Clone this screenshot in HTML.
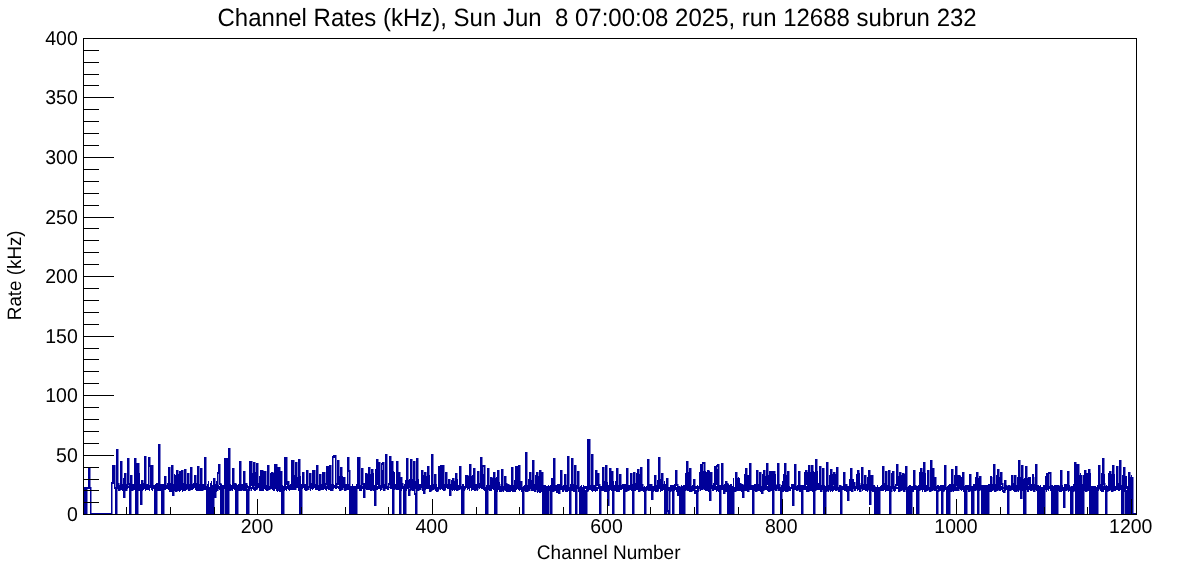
<!DOCTYPE html>
<html><head><meta charset="utf-8"><style>
html,body{margin:0;padding:0;background:#fff;width:1196px;height:572px;overflow:hidden}
svg{display:block;font-family:"Liberation Sans",sans-serif;text-rendering:geometricPrecision;will-change:transform}
</style></head><body>
<svg width="1196" height="572" viewBox="0 0 1196 572" shape-rendering="crispEdges">
<rect x="83.5" y="38.5" width="1053" height="476" fill="none" stroke="#000" stroke-width="1"/>
<path d="M117 485h1V489h-1zM118 485h1V489h-1zM119 486h1V489h-1zM120 484h1V490h-1zM121 480h1V490h-1zM122 487h1V491h-1zM123 478h1V490h-1zM124 479h1V491h-1zM125 485h1V490h-1zM126 484h1V489h-1zM127 485h1V489h-1zM128 486h1V488h-1zM129 484h1V489h-1zM130 484h1V489h-1zM131 484h1V491h-1zM132 484h1V490h-1zM133 484h1V489h-1zM134 484h1V489h-1zM135 485h1V489h-1zM136 475h1V491h-1zM137 487h1V491h-1zM138 474h1V490h-1zM139 473h1V489h-1zM140 484h1V489h-1zM141 485h1V489h-1zM142 486h1V491h-1zM143 485h1V490h-1zM144 484h1V489h-1zM145 485h1V491h-1zM146 484h1V489h-1zM147 484h1V489h-1zM148 484h1V490h-1zM149 485h1V491h-1zM150 484h1V488h-1zM151 484h1V490h-1zM152 484h1V491h-1zM153 485h1V489h-1zM154 485h1V489h-1zM155 484h1V489h-1zM156 484h1V488h-1zM157 485h1V490h-1zM158 484h1V490h-1zM159 485h1V491h-1zM160 485h1V491h-1zM161 484h1V490h-1zM162 484h1V491h-1zM163 484h1V489h-1zM164 485h1V490h-1zM165 486h1V490h-1zM166 485h1V489h-1zM167 485h1V489h-1zM168 474h1V490h-1zM169 475h1V492h-1zM170 486h1V490h-1zM171 474h1V492h-1zM172 475h1V490h-1zM173 486h1V492h-1zM174 474h1V491h-1zM175 475h1V490h-1zM176 487h1V492h-1zM177 474h1V491h-1zM178 474h1V490h-1zM179 486h1V492h-1zM180 476h1V491h-1zM181 475h1V490h-1zM182 485h1V492h-1zM183 484h1V490h-1zM184 486h1V488h-1zM185 484h1V491h-1zM186 486h1V490h-1zM187 485h1V489h-1zM188 485h1V490h-1zM189 486h1V489h-1zM190 486h1V490h-1zM191 485h1V490h-1zM192 484h1V490h-1zM193 484h1V489h-1zM194 484h1V488h-1zM195 484h1V490h-1zM196 486h1V490h-1zM197 485h1V489h-1zM198 486h1V491h-1zM199 485h1V491h-1zM200 484h1V491h-1zM201 484h1V489h-1zM202 485h1V490h-1zM203 485h1V490h-1zM204 485h1V489h-1zM205 485h1V490h-1zM206 486h1V490h-1zM207 484h1V490h-1zM208 481h1V490h-1zM209 487h1V489h-1zM210 483h1V490h-1zM211 481h1V491h-1zM212 485h1V491h-1zM213 481h1V492h-1zM214 482h1V490h-1zM215 486h1V491h-1zM216 481h1V492h-1zM217 484h1V490h-1zM218 485h1V489h-1zM219 486h1V490h-1zM220 484h1V490h-1zM221 484h1V489h-1zM222 485h1V488h-1zM223 486h1V489h-1zM224 484h1V489h-1zM225 484h1V491h-1zM226 485h1V490h-1zM227 485h1V491h-1zM228 484h1V489h-1zM229 484h1V489h-1zM230 484h1V488h-1zM231 485h1V490h-1zM232 484h1V491h-1zM233 484h1V489h-1zM234 486h1V490h-1zM235 484h1V488h-1zM236 484h1V490h-1zM237 485h1V491h-1zM238 485h1V491h-1zM239 485h1V491h-1zM240 485h1V489h-1zM241 484h1V489h-1zM242 485h1V489h-1zM243 486h1V491h-1zM244 486h1V491h-1zM245 484h1V491h-1zM246 484h1V490h-1zM247 485h1V488h-1zM248 486h1V489h-1zM249 473h1V489h-1zM250 472h1V489h-1zM251 487h1V491h-1zM252 473h1V489h-1zM253 471h1V490h-1zM254 487h1V491h-1zM255 472h1V491h-1zM256 471h1V488h-1zM257 485h1V489h-1zM258 486h1V488h-1zM259 476h1V491h-1zM260 485h1V491h-1zM261 476h1V491h-1zM262 477h1V491h-1zM263 487h1V491h-1zM264 476h1V489h-1zM265 476h1V490h-1zM266 485h1V490h-1zM267 474h1V488h-1zM268 474h1V490h-1zM269 486h1V490h-1zM270 473h1V489h-1zM271 473h1V489h-1zM272 486h1V490h-1zM273 473h1V491h-1zM274 474h1V491h-1zM275 485h1V489h-1zM276 473h1V491h-1zM277 473h1V492h-1zM278 486h1V490h-1zM279 474h1V491h-1zM280 474h1V490h-1zM281 486h1V489h-1zM282 485h1V488h-1zM283 486h1V489h-1zM284 485h1V491h-1zM285 484h1V490h-1zM286 486h1V491h-1zM287 485h1V489h-1zM288 485h1V490h-1zM289 486h1V491h-1zM290 485h1V489h-1zM291 476h1V490h-1zM292 475h1V490h-1zM293 485h1V490h-1zM294 475h1V488h-1zM295 475h1V489h-1zM296 485h1V488h-1zM297 477h1V488h-1zM298 476h1V491h-1zM299 485h1V490h-1zM300 476h1V490h-1zM301 484h1V488h-1zM302 484h1V489h-1zM303 486h1V488h-1zM304 484h1V490h-1zM305 484h1V490h-1zM306 485h1V489h-1zM307 486h1V489h-1zM308 486h1V490h-1zM309 485h1V488h-1zM310 484h1V491h-1zM311 485h1V488h-1zM312 485h1V490h-1zM313 485h1V489h-1zM314 484h1V488h-1zM315 484h1V489h-1zM316 486h1V489h-1zM317 486h1V490h-1zM318 485h1V490h-1zM319 484h1V491h-1zM320 484h1V490h-1zM321 484h1V489h-1zM322 484h1V490h-1zM323 486h1V490h-1zM324 485h1V488h-1zM325 484h1V490h-1zM326 486h1V491h-1zM327 484h1V489h-1zM328 485h1V489h-1zM329 485h1V490h-1zM330 485h1V491h-1zM331 484h1V491h-1zM332 485h1V491h-1zM333 484h1V489h-1zM334 485h1V488h-1zM335 484h1V489h-1zM336 484h1V489h-1zM337 486h1V488h-1zM338 486h1V489h-1zM339 476h1V488h-1zM340 474h1V490h-1zM341 486h1V489h-1zM342 476h1V490h-1zM343 486h1V488h-1zM344 484h1V489h-1zM345 486h1V489h-1zM346 485h1V490h-1zM347 485h1V489h-1zM348 484h1V490h-1zM349 484h1V489h-1zM350 486h1V490h-1zM351 486h1V489h-1zM352 484h1V489h-1zM353 486h1V491h-1zM354 486h1V491h-1zM355 486h1V489h-1zM356 484h1V489h-1zM357 484h1V489h-1zM358 485h1V489h-1zM359 486h1V491h-1zM360 485h1V491h-1zM361 484h1V491h-1zM362 486h1V489h-1zM363 485h1V489h-1zM364 485h1V490h-1zM365 485h1V489h-1zM366 484h1V490h-1zM367 474h1V489h-1zM368 487h1V490h-1zM369 473h1V490h-1zM370 474h1V489h-1zM371 485h1V490h-1zM372 473h1V488h-1zM373 473h1V491h-1zM374 485h1V490h-1zM375 469h1V491h-1zM376 470h1V490h-1zM377 486h1V490h-1zM378 471h1V489h-1zM379 469h1V489h-1zM380 487h1V491h-1zM381 471h1V489h-1zM382 470h1V488h-1zM383 485h1V488h-1zM384 486h1V489h-1zM385 484h1V489h-1zM386 485h1V489h-1zM387 486h1V490h-1zM388 486h1V490h-1zM389 487h1V488h-1zM390 471h1V489h-1zM391 471h1V489h-1zM392 487h1V489h-1zM393 471h1V490h-1zM394 472h1V490h-1zM395 486h1V489h-1zM396 472h1V490h-1zM397 471h1V490h-1zM398 485h1V490h-1zM399 484h1V490h-1zM400 484h1V490h-1zM401 485h1V491h-1zM402 485h1V489h-1zM403 486h1V488h-1zM404 484h1V490h-1zM405 480h1V488h-1zM406 479h1V491h-1zM407 485h1V489h-1zM408 480h1V490h-1zM409 479h1V488h-1zM410 487h1V488h-1zM411 480h1V489h-1zM412 479h1V491h-1zM413 486h1V491h-1zM414 479h1V491h-1zM415 481h1V489h-1zM416 487h1V489h-1zM417 480h1V490h-1zM418 479h1V490h-1zM419 484h1V490h-1zM420 484h1V490h-1zM421 485h1V488h-1zM422 484h1V489h-1zM423 475h1V490h-1zM424 476h1V491h-1zM425 485h1V490h-1zM426 476h1V489h-1zM427 476h1V489h-1zM428 486h1V489h-1zM429 475h1V489h-1zM430 485h1V491h-1zM431 484h1V490h-1zM432 484h1V489h-1zM433 485h1V490h-1zM434 485h1V489h-1zM435 484h1V489h-1zM436 484h1V491h-1zM437 487h1V491h-1zM438 471h1V491h-1zM439 471h1V489h-1zM440 487h1V490h-1zM441 472h1V489h-1zM442 471h1V490h-1zM443 486h1V491h-1zM444 484h1V489h-1zM445 484h1V490h-1zM446 486h1V488h-1zM447 485h1V489h-1zM448 484h1V489h-1zM449 484h1V488h-1zM450 484h1V491h-1zM451 480h1V490h-1zM452 486h1V491h-1zM453 479h1V490h-1zM454 481h1V491h-1zM455 485h1V490h-1zM456 480h1V490h-1zM457 479h1V488h-1zM458 485h1V489h-1zM459 484h1V489h-1zM460 484h1V489h-1zM461 486h1V489h-1zM462 484h1V488h-1zM463 484h1V489h-1zM464 486h1V491h-1zM465 475h1V489h-1zM466 475h1V488h-1zM467 485h1V490h-1zM468 476h1V489h-1zM469 477h1V491h-1zM470 485h1V488h-1zM471 476h1V491h-1zM472 475h1V490h-1zM473 486h1V490h-1zM474 485h1V489h-1zM475 486h1V489h-1zM476 485h1V489h-1zM477 486h1V491h-1zM478 485h1V488h-1zM479 485h1V489h-1zM480 475h1V488h-1zM481 473h1V489h-1zM482 485h1V489h-1zM483 474h1V490h-1zM484 486h1V490h-1zM485 487h1V490h-1zM486 485h1V490h-1zM487 486h1V490h-1zM488 486h1V490h-1zM489 486h1V490h-1zM490 486h1V491h-1zM491 487h1V491h-1zM492 478h1V489h-1zM493 478h1V490h-1zM494 486h1V489h-1zM495 478h1V492h-1zM496 477h1V491h-1zM497 487h1V492h-1zM498 481h1V490h-1zM499 482h1V492h-1zM500 486h1V489h-1zM501 482h1V492h-1zM502 483h1V489h-1zM503 486h1V492h-1zM504 481h1V490h-1zM505 482h1V491h-1zM506 485h1V492h-1zM507 487h1V492h-1zM508 486h1V491h-1zM509 485h1V490h-1zM510 485h1V492h-1zM511 487h1V490h-1zM512 486h1V492h-1zM513 485h1V492h-1zM514 480h1V490h-1zM515 485h1V492h-1zM516 480h1V490h-1zM517 479h1V489h-1zM518 486h1V490h-1zM519 481h1V491h-1zM520 481h1V489h-1zM521 486h1V491h-1zM522 487h1V491h-1zM523 486h1V489h-1zM524 485h1V491h-1zM525 486h1V492h-1zM526 487h1V491h-1zM527 487h1V490h-1zM528 479h1V491h-1zM529 479h1V490h-1zM530 487h1V489h-1zM531 480h1V491h-1zM532 479h1V491h-1zM533 485h1V491h-1zM534 487h1V489h-1zM535 475h1V490h-1zM536 485h1V490h-1zM537 475h1V493h-1zM538 476h1V492h-1zM539 486h1V493h-1zM540 477h1V493h-1zM541 475h1V492h-1zM542 487h1V492h-1zM543 485h1V492h-1zM544 485h1V490h-1zM545 485h1V489h-1zM546 486h1V490h-1zM547 486h1V491h-1zM548 485h1V491h-1zM549 486h1V490h-1zM550 485h1V492h-1zM551 485h1V490h-1zM552 487h1V491h-1zM553 486h1V490h-1zM554 486h1V490h-1zM555 485h1V491h-1zM556 485h1V489h-1zM557 487h1V491h-1zM558 486h1V490h-1zM559 485h1V490h-1zM560 486h1V490h-1zM561 485h1V490h-1zM562 486h1V492h-1zM563 487h1V492h-1zM564 486h1V490h-1zM565 487h1V490h-1zM566 486h1V491h-1zM567 485h1V492h-1zM568 486h1V491h-1zM569 487h1V492h-1zM570 486h1V490h-1zM571 486h1V491h-1zM572 485h1V491h-1zM573 486h1V489h-1zM574 486h1V491h-1zM575 485h1V491h-1zM576 486h1V490h-1zM577 487h1V489h-1zM578 486h1V490h-1zM579 487h1V491h-1zM580 486h1V491h-1zM581 485h1V490h-1zM582 487h1V491h-1zM583 485h1V491h-1zM584 486h1V492h-1zM585 486h1V489h-1zM586 486h1V490h-1zM587 486h1V491h-1zM588 487h1V491h-1zM589 486h1V490h-1zM590 485h1V490h-1zM591 487h1V491h-1zM592 485h1V492h-1zM593 486h1V491h-1zM594 485h1V491h-1zM595 487h1V492h-1zM596 487h1V491h-1zM597 487h1V491h-1zM598 485h1V489h-1zM599 486h1V492h-1zM600 487h1V490h-1zM601 486h1V490h-1zM602 485h1V491h-1zM603 485h1V491h-1zM604 481h1V491h-1zM605 485h1V492h-1zM606 481h1V492h-1zM607 482h1V491h-1zM608 485h1V490h-1zM609 483h1V491h-1zM610 482h1V490h-1zM611 486h1V491h-1zM612 482h1V489h-1zM613 481h1V490h-1zM614 486h1V490h-1zM615 481h1V489h-1zM616 483h1V492h-1zM617 486h1V489h-1zM618 486h1V492h-1zM619 486h1V492h-1zM620 486h1V490h-1zM621 485h1V490h-1zM622 486h1V489h-1zM623 485h1V492h-1zM624 486h1V490h-1zM625 485h1V491h-1zM626 485h1V489h-1zM627 486h1V489h-1zM628 485h1V491h-1zM629 485h1V490h-1zM630 478h1V490h-1zM631 478h1V491h-1zM632 485h1V490h-1zM633 474h1V489h-1zM634 473h1V491h-1zM635 485h1V491h-1zM636 473h1V490h-1zM637 473h1V490h-1zM638 486h1V492h-1zM639 474h1V492h-1zM640 473h1V491h-1zM641 486h1V491h-1zM642 487h1V491h-1zM643 487h1V489h-1zM644 486h1V490h-1zM645 487h1V491h-1zM646 486h1V491h-1zM647 486h1V490h-1zM648 485h1V491h-1zM649 487h1V490h-1zM650 486h1V491h-1zM651 486h1V490h-1zM652 486h1V489h-1zM653 487h1V492h-1zM654 480h1V491h-1zM655 480h1V492h-1zM656 485h1V491h-1zM657 480h1V490h-1zM658 481h1V491h-1zM659 485h1V489h-1zM660 479h1V492h-1zM661 480h1V491h-1zM662 486h1V491h-1zM663 486h1V490h-1zM664 481h1V490h-1zM665 485h1V491h-1zM666 481h1V491h-1zM667 483h1V491h-1zM668 487h1V491h-1zM669 487h1V490h-1zM670 485h1V491h-1zM671 487h1V491h-1zM672 485h1V491h-1zM673 485h1V491h-1zM674 485h1V491h-1zM675 486h1V490h-1zM676 487h1V492h-1zM677 486h1V489h-1zM678 486h1V492h-1zM679 487h1V490h-1zM680 487h1V491h-1zM681 485h1V491h-1zM682 486h1V491h-1zM683 485h1V490h-1zM684 485h1V492h-1zM685 473h1V490h-1zM686 487h1V490h-1zM687 471h1V491h-1zM688 472h1V491h-1zM689 486h1V492h-1zM690 473h1V491h-1zM691 486h1V489h-1zM692 485h1V491h-1zM693 485h1V489h-1zM694 485h1V492h-1zM695 486h1V489h-1zM696 486h1V489h-1zM697 485h1V489h-1zM698 486h1V492h-1zM699 472h1V489h-1zM700 472h1V491h-1zM701 486h1V490h-1zM702 471h1V490h-1zM703 471h1V489h-1zM704 485h1V490h-1zM705 471h1V491h-1zM706 472h1V490h-1zM707 486h1V491h-1zM708 472h1V490h-1zM709 471h1V491h-1zM710 485h1V491h-1zM711 472h1V489h-1zM712 485h1V491h-1zM713 486h1V491h-1zM714 471h1V490h-1zM715 470h1V490h-1zM716 486h1V492h-1zM717 469h1V491h-1zM718 471h1V492h-1zM719 485h1V489h-1zM720 485h1V491h-1zM721 485h1V490h-1zM722 485h1V490h-1zM723 486h1V489h-1zM724 484h1V492h-1zM725 484h1V492h-1zM726 484h1V492h-1zM727 485h1V490h-1zM728 484h1V491h-1zM729 485h1V490h-1zM730 484h1V489h-1zM731 484h1V491h-1zM732 486h1V490h-1zM733 478h1V490h-1zM734 487h1V492h-1zM735 478h1V490h-1zM736 478h1V491h-1zM737 487h1V490h-1zM738 477h1V491h-1zM739 478h1V491h-1zM740 486h1V491h-1zM741 486h1V492h-1zM742 487h1V490h-1zM743 485h1V490h-1zM744 474h1V491h-1zM745 473h1V490h-1zM746 485h1V491h-1zM747 475h1V491h-1zM748 475h1V491h-1zM749 486h1V490h-1zM750 475h1V490h-1zM751 485h1V490h-1zM752 485h1V490h-1zM753 485h1V490h-1zM754 485h1V489h-1zM755 485h1V492h-1zM756 474h1V491h-1zM757 475h1V490h-1zM758 486h1V489h-1zM759 475h1V491h-1zM760 474h1V491h-1zM761 486h1V490h-1zM762 474h1V490h-1zM763 474h1V491h-1zM764 487h1V490h-1zM765 476h1V490h-1zM766 474h1V490h-1zM767 486h1V491h-1zM768 475h1V490h-1zM769 474h1V492h-1zM770 485h1V491h-1zM771 475h1V491h-1zM772 476h1V491h-1zM773 485h1V491h-1zM774 476h1V490h-1zM775 474h1V490h-1zM776 485h1V490h-1zM777 485h1V489h-1zM778 485h1V491h-1zM779 486h1V490h-1zM780 487h1V489h-1zM781 485h1V491h-1zM782 485h1V490h-1zM783 474h1V492h-1zM784 473h1V490h-1zM785 486h1V492h-1zM786 475h1V490h-1zM787 473h1V491h-1zM788 487h1V491h-1zM789 486h1V491h-1zM790 487h1V491h-1zM791 485h1V489h-1zM792 485h1V489h-1zM793 485h1V490h-1zM794 486h1V490h-1zM795 485h1V490h-1zM796 486h1V490h-1zM797 487h1V489h-1zM798 487h1V490h-1zM799 486h1V490h-1zM800 486h1V489h-1zM801 486h1V490h-1zM802 485h1V490h-1zM803 485h1V490h-1zM804 472h1V490h-1zM805 473h1V490h-1zM806 486h1V492h-1zM807 472h1V492h-1zM808 472h1V489h-1zM809 487h1V490h-1zM810 472h1V490h-1zM811 472h1V491h-1zM812 487h1V492h-1zM813 471h1V492h-1zM814 472h1V491h-1zM815 487h1V490h-1zM816 471h1V490h-1zM817 471h1V490h-1zM818 485h1V490h-1zM819 472h1V489h-1zM820 472h1V491h-1zM821 485h1V489h-1zM822 472h1V490h-1zM823 472h1V490h-1zM824 485h1V491h-1zM825 486h1V490h-1zM826 485h1V492h-1zM827 485h1V490h-1zM828 485h1V492h-1zM829 475h1V490h-1zM830 486h1V492h-1zM831 474h1V491h-1zM832 474h1V492h-1zM833 486h1V491h-1zM834 473h1V490h-1zM835 474h1V490h-1zM836 486h1V491h-1zM837 474h1V489h-1zM838 487h1V491h-1zM839 485h1V491h-1zM840 485h1V490h-1zM841 486h1V491h-1zM842 486h1V490h-1zM843 485h1V490h-1zM844 485h1V491h-1zM845 486h1V489h-1zM846 485h1V491h-1zM847 486h1V491h-1zM848 486h1V492h-1zM849 479h1V489h-1zM850 481h1V491h-1zM851 487h1V489h-1zM852 479h1V491h-1zM853 479h1V489h-1zM854 485h1V491h-1zM855 486h1V491h-1zM856 474h1V489h-1zM857 485h1V491h-1zM858 474h1V490h-1zM859 473h1V491h-1zM860 485h1V491h-1zM861 473h1V489h-1zM862 473h1V491h-1zM863 485h1V489h-1zM864 475h1V490h-1zM865 476h1V491h-1zM866 486h1V489h-1zM867 477h1V492h-1zM868 477h1V490h-1zM869 485h1V491h-1zM870 475h1V489h-1zM871 475h1V491h-1zM872 485h1V489h-1zM873 485h1V490h-1zM874 485h1V490h-1zM875 487h1V492h-1zM876 487h1V492h-1zM877 485h1V490h-1zM878 487h1V491h-1zM879 487h1V491h-1zM880 486h1V490h-1zM881 485h1V491h-1zM882 474h1V491h-1zM883 473h1V491h-1zM884 486h1V489h-1zM885 475h1V492h-1zM886 473h1V491h-1zM887 485h1V490h-1zM888 474h1V490h-1zM889 474h1V492h-1zM890 486h1V492h-1zM891 473h1V492h-1zM892 475h1V489h-1zM893 486h1V491h-1zM894 486h1V492h-1zM895 487h1V491h-1zM896 487h1V489h-1zM897 487h1V489h-1zM898 476h1V491h-1zM899 487h1V491h-1zM900 474h1V490h-1zM901 475h1V491h-1zM902 486h1V490h-1zM903 475h1V489h-1zM904 474h1V491h-1zM905 486h1V490h-1zM906 485h1V490h-1zM907 487h1V490h-1zM908 486h1V492h-1zM909 485h1V490h-1zM910 485h1V490h-1zM911 486h1V491h-1zM912 486h1V491h-1zM913 487h1V492h-1zM914 487h1V490h-1zM915 486h1V490h-1zM916 486h1V489h-1zM917 486h1V492h-1zM918 485h1V492h-1zM919 472h1V490h-1zM920 487h1V490h-1zM921 472h1V490h-1zM922 472h1V492h-1zM923 486h1V490h-1zM924 472h1V489h-1zM925 473h1V490h-1zM926 487h1V491h-1zM927 474h1V490h-1zM928 472h1V489h-1zM929 487h1V491h-1zM930 473h1V491h-1zM931 472h1V491h-1zM932 486h1V489h-1zM933 474h1V490h-1zM934 485h1V491h-1zM935 486h1V490h-1zM936 486h1V489h-1zM937 485h1V489h-1zM938 485h1V491h-1zM939 486h1V490h-1zM940 485h1V491h-1zM941 486h1V490h-1zM942 485h1V492h-1zM943 485h1V490h-1zM944 487h1V491h-1zM945 485h1V490h-1zM946 487h1V491h-1zM947 486h1V490h-1zM948 485h1V492h-1zM949 487h1V491h-1zM950 486h1V491h-1zM951 475h1V490h-1zM952 475h1V490h-1zM953 486h1V492h-1zM954 475h1V491h-1zM955 476h1V491h-1zM956 487h1V491h-1zM957 475h1V491h-1zM958 476h1V490h-1zM959 485h1V489h-1zM960 476h1V490h-1zM961 477h1V491h-1zM962 486h1V490h-1zM963 475h1V490h-1zM964 486h1V492h-1zM965 485h1V490h-1zM966 486h1V491h-1zM967 485h1V490h-1zM968 485h1V490h-1zM969 485h1V490h-1zM970 485h1V490h-1zM971 486h1V491h-1zM972 486h1V490h-1zM973 486h1V489h-1zM974 485h1V490h-1zM975 477h1V490h-1zM976 478h1V490h-1zM977 485h1V492h-1zM978 478h1V491h-1zM979 478h1V490h-1zM980 485h1V490h-1zM981 485h1V489h-1zM982 486h1V490h-1zM983 486h1V490h-1zM984 485h1V491h-1zM985 485h1V491h-1zM986 485h1V491h-1zM987 486h1V491h-1zM988 485h1V489h-1zM989 485h1V492h-1zM990 476h1V490h-1zM991 476h1V492h-1zM992 486h1V491h-1zM993 476h1V490h-1zM994 475h1V491h-1zM995 486h1V490h-1zM996 475h1V490h-1zM997 475h1V491h-1zM998 485h1V490h-1zM999 477h1V491h-1zM1000 475h1V491h-1zM1001 486h1V490h-1zM1002 486h1V490h-1zM1003 487h1V489h-1zM1004 485h1V490h-1zM1005 487h1V491h-1zM1006 486h1V489h-1zM1007 486h1V489h-1zM1008 486h1V491h-1zM1009 485h1V491h-1zM1010 487h1V489h-1zM1011 478h1V490h-1zM1012 477h1V490h-1zM1013 487h1V491h-1zM1014 477h1V492h-1zM1015 478h1V491h-1zM1016 486h1V490h-1zM1017 477h1V491h-1zM1018 477h1V492h-1zM1019 486h1V490h-1zM1020 477h1V489h-1zM1021 478h1V489h-1zM1022 485h1V491h-1zM1023 479h1V489h-1zM1024 478h1V489h-1zM1025 485h1V491h-1zM1026 477h1V489h-1zM1027 478h1V492h-1zM1028 486h1V492h-1zM1029 478h1V490h-1zM1030 477h1V490h-1zM1031 486h1V491h-1zM1032 474h1V490h-1zM1033 474h1V491h-1zM1034 485h1V490h-1zM1035 473h1V490h-1zM1036 473h1V491h-1zM1037 485h1V490h-1zM1038 485h1V489h-1zM1039 486h1V490h-1zM1040 485h1V490h-1zM1041 487h1V491h-1zM1042 487h1V491h-1zM1043 485h1V490h-1zM1044 485h1V491h-1zM1045 476h1V490h-1zM1046 486h1V492h-1zM1047 477h1V490h-1zM1048 478h1V491h-1zM1049 486h1V489h-1zM1050 477h1V491h-1zM1051 485h1V492h-1zM1052 485h1V491h-1zM1053 486h1V491h-1zM1054 487h1V491h-1zM1055 486h1V489h-1zM1056 485h1V489h-1zM1057 486h1V490h-1zM1058 487h1V491h-1zM1059 486h1V492h-1zM1060 487h1V489h-1zM1061 485h1V492h-1zM1062 485h1V490h-1zM1063 487h1V490h-1zM1064 487h1V490h-1zM1065 485h1V491h-1zM1066 485h1V490h-1zM1067 486h1V490h-1zM1068 486h1V492h-1zM1069 485h1V489h-1zM1070 487h1V491h-1zM1071 486h1V490h-1zM1072 486h1V490h-1zM1073 485h1V491h-1zM1074 475h1V491h-1zM1075 474h1V491h-1zM1076 486h1V489h-1zM1077 473h1V491h-1zM1078 475h1V492h-1zM1079 487h1V490h-1zM1080 473h1V491h-1zM1081 475h1V490h-1zM1082 487h1V492h-1zM1083 475h1V490h-1zM1084 474h1V491h-1zM1085 486h1V492h-1zM1086 473h1V491h-1zM1087 473h1V489h-1zM1088 486h1V489h-1zM1089 473h1V491h-1zM1090 473h1V491h-1zM1091 486h1V490h-1zM1092 486h1V490h-1zM1093 486h1V491h-1zM1094 486h1V491h-1zM1095 486h1V489h-1zM1096 487h1V490h-1zM1097 485h1V489h-1zM1098 473h1V491h-1zM1099 474h1V489h-1zM1100 485h1V490h-1zM1101 473h1V492h-1zM1102 473h1V492h-1zM1103 486h1V492h-1zM1104 474h1V490h-1zM1105 486h1V492h-1zM1106 485h1V490h-1zM1107 486h1V490h-1zM1108 473h1V491h-1zM1109 486h1V490h-1zM1110 475h1V489h-1zM1111 474h1V491h-1zM1112 486h1V491h-1zM1113 474h1V491h-1zM1114 474h1V491h-1zM1115 487h1V491h-1zM1116 475h1V490h-1zM1117 473h1V490h-1zM1118 486h1V491h-1zM1119 473h1V491h-1zM1120 476h1V490h-1zM1121 486h1V491h-1zM1122 475h1V492h-1zM1123 476h1V490h-1zM1124 485h1V491h-1zM1125 476h1V490h-1zM1126 476h1V489h-1zM1127 486h1V490h-1zM1128 475h1V492h-1zM1129 475h1V489h-1zM1130 485h1V492h-1zM1131 475h1V491h-1zM84 487h1V489h-1zM84 487H85.5V515H84zM85 513h1V515h-1zM85 487H86.5V515H85zM86 487h1V489h-1zM86 487H87.5V515H86zM87 487h1V489h-1zM88 468h1V470h-1zM88 468H89.5V489H88zM89 487h1V489h-1zM89 468H90.5V489H89zM90 513h1V515h-1zM90 487H91.5V515H90zM91 513h1V515h-1zM92 513h1V515h-1zM93 513h1V515h-1zM94 513h1V515h-1zM95 513h1V515h-1zM96 513h1V515h-1zM97 513h1V515h-1zM98 513h1V515h-1zM99 513h1V515h-1zM100 513h1V515h-1zM101 513h1V515h-1zM102 513h1V515h-1zM103 513h1V515h-1zM104 513h1V515h-1zM105 513h1V515h-1zM106 513h1V515h-1zM107 513h1V515h-1zM108 513h1V515h-1zM109 513h1V515h-1zM110 513h1V515h-1zM111 482h1V484h-1zM111 482H112.5V515H111zM112 465h1V467h-1zM112 465H113.5V484H112zM113 465h1V467h-1zM113 465H114.5V484H113zM114 487h1V489h-1zM114 465H115.5V489H114zM115 513h1V515h-1zM115 487H116.5V515H115zM116 449h1V451h-1zM116 449H117.5V515H116zM117 483h1V485h-1zM117 449H118.5V485H117zM118 489h1V491h-1zM118 483H119.5V491H118zM119 485h1V487h-1zM119 485H120.5V491H119zM120 461h1V463h-1zM120 461H121.5V487H120zM121 484h1V486h-1zM121 461H122.5V486H121zM122 488h1V490h-1zM122 484H123.5V490H122zM123 496h1V498h-1zM123 488H124.5V498H123zM124 473h1V475h-1zM124 473H125.5V498H124zM125 489h1V491h-1zM125 473H126.5V491H125zM126 486h1V488h-1zM126 486H127.5V491H126zM127 458h1V460h-1zM127 458H128.5V488H127zM128 483h1V485h-1zM128 458H129.5V485H128zM129 513h1V515h-1zM129 483H130.5V515H129zM130 475h1V477h-1zM130 475H131.5V515H130zM131 489h1V491h-1zM131 475H132.5V491H131zM132 485h1V487h-1zM132 485H133.5V491H132zM133 488h1V490h-1zM133 485H134.5V490H133zM134 458h1V460h-1zM134 458H135.5V490H134zM135 513h1V515h-1zM135 458H136.5V515H135zM136 513h1V515h-1zM136 463H137.5V515H136zM137 463h1V465h-1zM137 463H138.5V515H137zM138 489h1V491h-1zM138 463H139.5V491H138zM139 486h1V488h-1zM139 486H140.5V491H139zM140 503h1V505h-1zM140 486H141.5V505H140zM141 480h1V482h-1zM141 480H142.5V505H141zM142 487h1V489h-1zM142 480H143.5V489H142zM143 483h1V485h-1zM143 483H144.5V489H143zM144 456h1V458h-1zM144 456H145.5V485H144zM145 485h1V487h-1zM145 456H146.5V487H145zM146 488h1V490h-1zM146 485H147.5V490H146zM147 484h1V486h-1zM147 484H148.5V490H147zM148 457h1V459h-1zM148 457H149.5V486H148zM149 465h1V467h-1zM149 457H150.5V467H149zM150 484h1V486h-1zM150 465H151.5V486H150zM151 465h1V467h-1zM151 465H152.5V486H151zM152 486h1V488h-1zM152 465H153.5V488H152zM153 486h1V488h-1zM154 513h1V515h-1zM154 486H155.5V515H154zM155 513h1V515h-1zM155 486H156.5V515H155zM156 483h1V485h-1zM156 483H157.5V515H156zM157 489h1V491h-1zM157 483H158.5V491H157zM158 444h1V446h-1zM158 444H159.5V491H158zM159 488h1V490h-1zM159 444H160.5V490H159zM160 484h1V486h-1zM160 484H161.5V490H160zM161 513h1V515h-1zM161 484H162.5V515H161zM162 513h1V515h-1zM162 484H163.5V515H162zM163 484h1V486h-1zM163 484H164.5V515H163zM164 476h1V478h-1zM164 476H165.5V486H164zM165 486h1V488h-1zM165 476H166.5V488H165zM166 486h1V488h-1zM167 483h1V485h-1zM167 483H168.5V488H167zM168 467h1V469h-1zM168 467H169.5V485H168zM169 483h1V485h-1zM169 467H170.5V485H169zM170 490h1V492h-1zM170 483H171.5V492H170zM171 465h1V467h-1zM171 465H172.5V492H171zM172 494h1V496h-1zM172 465H173.5V496H172zM173 484h1V486h-1zM173 484H174.5V496H173zM174 488h1V490h-1zM174 484H175.5V490H174zM175 490h1V492h-1zM175 488H176.5V492H175zM176 470h1V472h-1zM176 470H177.5V492H176zM177 489h1V491h-1zM177 470H178.5V491H177zM178 486h1V488h-1zM178 486H179.5V491H178zM179 471h1V473h-1zM179 471H180.5V488H179zM180 483h1V485h-1zM180 471H181.5V485H180zM181 470h1V472h-1zM181 470H182.5V485H181zM182 483h1V485h-1zM182 470H183.5V485H182zM183 489h1V491h-1zM183 483H184.5V491H183zM184 469h1V471h-1zM184 469H185.5V491H184zM185 488h1V490h-1zM185 469H186.5V490H185zM186 484h1V486h-1zM186 484H187.5V490H186zM187 473h1V475h-1zM187 473H188.5V486H187zM188 489h1V491h-1zM188 473H189.5V491H188zM189 484h1V486h-1zM189 484H190.5V491H189zM190 467h1V469h-1zM190 467H191.5V486H190zM191 486h1V488h-1zM191 467H192.5V488H191zM192 486h1V488h-1zM193 483h1V485h-1zM193 483H194.5V488H193zM194 475h1V477h-1zM194 475H195.5V485H194zM195 483h1V485h-1zM195 475H196.5V485H195zM196 489h1V491h-1zM196 483H197.5V491H196zM197 466h1V468h-1zM197 466H198.5V491H197zM198 488h1V490h-1zM198 466H199.5V490H198zM199 484h1V486h-1zM199 484H200.5V490H199zM200 468h1V470h-1zM200 468H201.5V486H200zM201 489h1V491h-1zM201 468H202.5V491H201zM202 484h1V486h-1zM202 484H203.5V491H202zM203 488h1V490h-1zM203 484H204.5V490H203zM204 457h1V459h-1zM204 457H205.5V490H204zM205 486h1V488h-1zM205 457H206.5V488H205zM206 513h1V515h-1zM206 486H207.5V515H206zM207 489h1V491h-1zM207 489H208.5V515H207zM208 513h1V515h-1zM208 489H209.5V515H208zM209 489h1V491h-1zM209 489H210.5V515H209zM210 513h1V515h-1zM210 489H211.5V515H210zM211 489h1V491h-1zM211 489H212.5V515H211zM212 513h1V515h-1zM212 489H213.5V515H212zM213 478h1V480h-1zM213 478H214.5V515H213zM214 496h1V498h-1zM214 478H215.5V498H214zM215 484h1V486h-1zM215 484H216.5V498H215zM216 489h1V491h-1zM216 484H217.5V491H216zM217 472h1V474h-1zM217 472H218.5V491H217zM218 464h1V466h-1zM218 464H219.5V474H218zM219 483h1V485h-1zM219 464H220.5V485H219zM220 513h1V515h-1zM220 483H221.5V515H220zM221 513h1V515h-1zM221 485H222.5V515H221zM222 513h1V515h-1zM222 485H223.5V515H222zM223 485h1V487h-1zM223 485H224.5V515H223zM224 458h1V460h-1zM224 458H225.5V487H224zM225 513h1V515h-1zM225 458H226.5V515H225zM226 458h1V460h-1zM226 458H227.5V515H226zM227 513h1V515h-1zM227 458H228.5V515H227zM228 448h1V450h-1zM228 448H229.5V515H228zM229 489h1V491h-1zM229 448H230.5V491H229zM230 486h1V488h-1zM230 486H231.5V491H230zM231 486h1V488h-1zM232 468h1V470h-1zM232 468H233.5V488H232zM233 487h1V489h-1zM233 468H234.5V489H233zM234 483h1V485h-1zM234 483H235.5V489H234zM235 513h1V515h-1zM235 483H236.5V515H235zM236 513h1V515h-1zM236 488H237.5V515H236zM237 488h1V490h-1zM237 488H238.5V515H237zM238 484h1V486h-1zM238 484H239.5V490H238zM239 461h1V463h-1zM239 461H240.5V486H239zM240 489h1V491h-1zM240 461H241.5V491H240zM241 484h1V486h-1zM241 484H242.5V491H241zM242 488h1V490h-1zM242 484H243.5V490H242zM243 471h1V473h-1zM243 471H244.5V490H243zM244 486h1V488h-1zM244 471H245.5V488H244zM245 483h1V485h-1zM245 483H246.5V488H245zM246 513h1V515h-1zM246 483H247.5V515H246zM247 513h1V515h-1zM247 489H248.5V515H247zM248 489h1V491h-1zM248 489H249.5V515H248zM249 461h1V463h-1zM249 461H250.5V491H249zM250 461h1V463h-1zM250 461H251.5V486H250zM251 484h1V486h-1zM251 461H252.5V486H251zM252 487h1V489h-1zM252 484H253.5V489H252zM253 462h1V464h-1zM253 462H254.5V489H253zM254 484h1V486h-1zM254 462H255.5V486H254zM255 488h1V490h-1zM255 484H256.5V490H255zM256 463h1V465h-1zM256 463H257.5V490H256zM257 486h1V488h-1zM257 463H258.5V488H257zM258 483h1V485h-1zM258 483H259.5V488H258zM259 488h1V490h-1zM259 483H260.5V490H259zM260 470h1V472h-1zM260 470H261.5V490H260zM261 470h1V472h-1zM261 470H262.5V487H261zM262 485h1V487h-1zM262 470H263.5V487H262zM263 471h1V473h-1zM263 471H264.5V487H263zM264 471h1V473h-1zM264 471H265.5V487H264zM265 488h1V490h-1zM265 471H266.5V490H265zM266 489h1V491h-1zM266 488H267.5V491H266zM267 465h1V467h-1zM267 465H268.5V491H267zM268 488h1V490h-1zM268 465H269.5V490H268zM269 486h1V488h-1zM269 486H270.5V490H269zM270 486h1V488h-1zM271 472h1V474h-1zM271 472H272.5V488H271zM272 487h1V489h-1zM272 472H273.5V489H272zM273 483h1V485h-1zM273 483H274.5V489H273zM274 464h1V466h-1zM274 464H275.5V485H274zM275 464h1V466h-1zM275 464H276.5V485H275zM276 489h1V491h-1zM276 464H277.5V491H276zM277 467h1V469h-1zM277 467H278.5V491H277zM278 467h1V469h-1zM278 467H279.5V491H278zM279 490h1V492h-1zM279 467H280.5V492H279zM280 471h1V473h-1zM280 471H281.5V492H280zM281 513h1V515h-1zM281 471H282.5V515H281zM282 513h1V515h-1zM282 486H283.5V515H282zM283 486h1V488h-1zM283 486H284.5V515H283zM284 457h1V459h-1zM284 457H285.5V488H284zM285 457h1V459h-1zM285 457H286.5V485H285zM286 483h1V485h-1zM286 457H287.5V485H286zM287 481h1V483h-1zM287 481H288.5V485H287zM288 485h1V487h-1zM288 481H289.5V487H288zM289 488h1V490h-1zM289 485H290.5V490H289zM290 484h1V486h-1zM290 484H291.5V490H290zM291 460h1V462h-1zM291 460H292.5V486H291zM292 460h1V462h-1zM292 460H293.5V486H292zM293 484h1V486h-1zM293 460H294.5V486H293zM294 488h1V490h-1zM294 484H295.5V490H294zM295 462h1V464h-1zM295 462H296.5V490H295zM296 486h1V488h-1zM296 462H297.5V488H296zM297 483h1V485h-1zM297 483H298.5V488H297zM298 459h1V461h-1zM298 459H299.5V485H298zM299 513h1V515h-1zM299 459H300.5V515H299zM300 513h1V515h-1zM300 485H301.5V515H300zM301 485h1V487h-1zM301 485H302.5V515H301zM302 472h1V474h-1zM302 472H303.5V487H302zM303 484h1V486h-1zM303 472H304.5V486H303zM304 487h1V489h-1zM304 484H305.5V489H304zM305 489h1V491h-1zM305 487H306.5V491H305zM306 470h1V472h-1zM306 470H307.5V491H306zM307 488h1V490h-1zM307 470H308.5V490H307zM308 486h1V488h-1zM308 486H309.5V490H308zM309 473h1V475h-1zM309 473H310.5V488H309zM310 483h1V485h-1zM310 473H311.5V485H310zM311 487h1V489h-1zM311 483H312.5V489H311zM312 470h1V472h-1zM312 470H313.5V489H312zM313 470h1V472h-1zM313 470H314.5V487H313zM314 485h1V487h-1zM314 470H315.5V487H314zM315 488h1V490h-1zM315 485H316.5V490H315zM316 465h1V467h-1zM316 465H317.5V490H316zM317 487h1V489h-1zM317 465H318.5V489H317zM318 489h1V491h-1zM318 487H319.5V491H318zM319 474h1V476h-1zM319 474H320.5V491H319zM320 488h1V490h-1zM320 474H321.5V490H320zM321 486h1V488h-1zM321 486H322.5V490H321zM322 472h1V474h-1zM322 472H323.5V488H322zM323 472h1V474h-1zM323 472H324.5V488H323zM324 487h1V489h-1zM324 472H325.5V489H324zM325 483h1V485h-1zM325 483H326.5V489H325zM326 466h1V468h-1zM326 466H327.5V485H326zM327 466h1V468h-1zM327 466H328.5V485H327zM328 488h1V490h-1zM328 466H329.5V490H328zM329 465h1V467h-1zM329 465H330.5V490H329zM330 487h1V489h-1zM330 465H331.5V489H330zM331 489h1V491h-1zM331 487H332.5V491H331zM332 456h1V458h-1zM332 456H333.5V491H332zM333 455h1V457h-1zM333 455H334.5V458H333zM334 455h1V457h-1zM334 455H335.5V458H334zM335 486h1V488h-1zM335 455H336.5V488H335zM336 483h1V485h-1zM336 483H337.5V488H336zM337 460h1V462h-1zM337 460H338.5V485H337zM338 483h1V485h-1zM338 460H339.5V485H338zM339 489h1V491h-1zM339 483H340.5V491H339zM340 467h1V469h-1zM340 467H341.5V491H340zM341 488h1V490h-1zM341 467H342.5V490H341zM342 484h1V486h-1zM342 484H343.5V490H342zM343 477h1V479h-1zM343 477H344.5V486H343zM344 489h1V491h-1zM344 477H345.5V491H344zM345 484h1V486h-1zM345 484H346.5V491H345zM346 488h1V490h-1zM346 484H347.5V490H346zM347 457h1V459h-1zM347 457H348.5V490H347zM348 470h1V472h-1zM348 457H349.5V472H348zM349 513h1V515h-1zM349 470H350.5V515H349zM350 513h1V515h-1zM350 487H351.5V515H350zM351 513h1V515h-1zM351 487H352.5V515H351zM352 513h1V515h-1zM352 487H353.5V515H352zM353 513h1V515h-1zM353 487H354.5V515H353zM354 513h1V515h-1zM354 487H355.5V515H354zM355 513h1V515h-1zM355 487H356.5V515H355zM356 487h1V489h-1zM356 487H357.5V515H356zM357 457h1V459h-1zM357 457H358.5V489H357zM358 457h1V459h-1zM358 457H359.5V489H358zM359 488h1V490h-1zM359 457H360.5V490H359zM360 486h1V488h-1zM360 486H361.5V490H360zM361 468h1V470h-1zM361 468H362.5V488H361zM362 483h1V485h-1zM362 468H363.5V485H362zM363 496h1V498h-1zM363 483H364.5V498H363zM364 483h1V485h-1zM364 483H365.5V498H364zM365 473h1V475h-1zM365 473H366.5V485H365zM366 485h1V487h-1zM366 473H367.5V487H366zM367 488h1V490h-1zM367 485H368.5V490H367zM368 467h1V469h-1zM368 467H369.5V490H368zM369 487h1V489h-1zM369 467H370.5V489H369zM370 489h1V491h-1zM370 487H371.5V491H370zM371 469h1V471h-1zM371 469H372.5V491H371zM372 488h1V490h-1zM372 469H373.5V490H372zM373 486h1V488h-1zM373 486H374.5V490H373zM374 504h1V506h-1zM374 486H375.5V506H374zM375 483h1V485h-1zM375 483H376.5V506H375zM376 459h1V461h-1zM376 459H377.5V485H376zM377 483h1V485h-1zM377 459H378.5V485H377zM378 462h1V464h-1zM378 462H379.5V485H378zM379 485h1V487h-1zM379 462H380.5V487H379zM380 488h1V490h-1zM380 485H381.5V490H380zM381 463h1V465h-1zM381 463H382.5V490H381zM382 462h1V464h-1zM382 462H383.5V465H382zM383 489h1V491h-1zM383 462H384.5V491H383zM384 484h1V486h-1zM384 484H385.5V491H384zM385 454h1V456h-1zM385 454H386.5V486H385zM386 486h1V488h-1zM386 454H387.5V488H386zM387 486h1V488h-1zM388 483h1V485h-1zM388 483H389.5V488H388zM389 456h1V458h-1zM389 456H390.5V485H389zM390 483h1V485h-1zM390 456H391.5V485H390zM391 461h1V463h-1zM391 461H392.5V485H391zM392 513h1V515h-1zM392 461H393.5V515H392zM393 488h1V490h-1zM393 488H394.5V515H393zM394 484h1V486h-1zM394 484H395.5V490H394zM395 487h1V489h-1zM395 484H396.5V489H395zM396 461h1V463h-1zM396 461H397.5V489H396zM397 484h1V486h-1zM397 461H398.5V486H397zM398 472h1V474h-1zM398 472H399.5V486H398zM399 513h1V515h-1zM399 472H400.5V515H399zM400 477h1V479h-1zM400 477H401.5V515H400zM401 483h1V485h-1zM401 477H402.5V485H401zM402 487h1V489h-1zM402 483H403.5V489H402zM403 513h1V515h-1zM403 487H404.5V515H403zM404 513h1V515h-1zM404 487H405.5V515H404zM405 485h1V487h-1zM405 485H406.5V515H405zM406 458h1V460h-1zM406 458H407.5V487H406zM407 484h1V486h-1zM407 458H408.5V486H407zM408 494h1V496h-1zM408 484H409.5V496H408zM409 489h1V491h-1zM409 489H410.5V496H409zM410 459h1V461h-1zM410 459H411.5V491H410zM411 488h1V490h-1zM411 459H412.5V490H411zM412 486h1V488h-1zM412 486H413.5V490H412zM413 461h1V463h-1zM413 461H414.5V488H413zM414 493h1V495h-1zM414 461H415.5V495H414zM415 513h1V515h-1zM415 493H416.5V515H415zM416 458h1V460h-1zM416 458H417.5V515H416zM417 489h1V491h-1zM417 458H418.5V491H417zM418 485h1V487h-1zM418 485H419.5V491H418zM419 488h1V490h-1zM419 485H420.5V490H419zM420 484h1V486h-1zM420 484H421.5V490H420zM421 470h1V472h-1zM421 470H422.5V486H421zM422 489h1V491h-1zM422 470H423.5V491H422zM423 492h1V494h-1zM423 489H424.5V494H423zM424 472h1V474h-1zM424 472H425.5V494H424zM425 486h1V488h-1zM425 472H426.5V488H425zM426 486h1V488h-1zM427 466h1V468h-1zM427 466H428.5V488H427zM428 487h1V489h-1zM428 466H429.5V489H428zM429 490h1V492h-1zM429 487H430.5V492H429zM430 489h1V491h-1zM430 489H431.5V492H430zM431 454h1V456h-1zM431 454H432.5V491H431zM432 488h1V490h-1zM432 454H433.5V490H432zM433 484h1V486h-1zM433 484H434.5V490H433zM434 474h1V476h-1zM434 474H435.5V486H434zM435 489h1V491h-1zM435 474H436.5V491H435zM436 490h1V492h-1zM436 489H437.5V492H436zM437 488h1V490h-1zM437 488H438.5V492H437zM438 466h1V468h-1zM438 466H439.5V490H438zM439 486h1V488h-1zM439 466H440.5V488H439zM440 465h1V467h-1zM440 465H441.5V488H440zM441 487h1V489h-1zM441 465H442.5V489H441zM442 465h1V467h-1zM442 465H443.5V489H442zM443 489h1V491h-1zM443 465H444.5V491H443zM444 485h1V487h-1zM444 485H445.5V491H444zM445 472h1V474h-1zM445 472H446.5V487H445zM446 484h1V486h-1zM446 472H447.5V486H446zM447 487h1V489h-1zM447 484H448.5V489H447zM448 479h1V481h-1zM448 479H449.5V489H448zM449 494h1V496h-1zM449 479H450.5V496H449zM450 488h1V490h-1zM450 488H451.5V496H450zM451 486h1V488h-1zM451 486H452.5V490H451zM452 478h1V480h-1zM452 478H453.5V488H452zM453 483h1V485h-1zM453 478H454.5V485H453zM454 487h1V489h-1zM454 483H455.5V489H454zM455 473h1V475h-1zM455 473H456.5V489H455zM456 489h1V491h-1zM456 473H457.5V491H456zM457 485h1V487h-1zM457 485H458.5V491H457zM458 488h1V490h-1zM458 485H459.5V490H458zM459 466h1V468h-1zM459 466H460.5V490H459zM460 487h1V489h-1zM460 466H461.5V489H460zM461 513h1V515h-1zM461 487H462.5V515H461zM462 513h1V515h-1zM462 488H463.5V515H462zM463 488h1V490h-1zM463 488H464.5V515H463zM464 486h1V488h-1zM464 486H465.5V490H464zM465 486h1V488h-1zM466 475h1V477h-1zM466 475H467.5V488H466zM467 487h1V489h-1zM467 475H468.5V489H467zM468 483h1V485h-1zM468 483H469.5V489H468zM469 464h1V466h-1zM469 464H470.5V485H469zM470 485h1V487h-1zM470 464H471.5V487H470zM471 488h1V490h-1zM471 485H472.5V490H471zM472 484h1V486h-1zM472 484H473.5V490H472zM473 468h1V470h-1zM473 468H474.5V486H473zM474 489h1V491h-1zM474 468H475.5V491H474zM475 484h1V486h-1zM475 484H476.5V491H475zM476 488h1V490h-1zM476 484H477.5V490H476zM477 471h1V473h-1zM477 471H478.5V490H477zM478 486h1V488h-1zM478 471H479.5V488H478zM479 483h1V485h-1zM479 483H480.5V488H479zM480 457h1V459h-1zM480 457H481.5V485H480zM481 483h1V485h-1zM481 457H482.5V485H481zM482 465h1V467h-1zM482 465H483.5V485H482zM483 465h1V467h-1zM484 489h1V491h-1zM484 465H485.5V491H484zM485 513h1V515h-1zM485 489H486.5V515H485zM486 513h1V515h-1zM486 489H487.5V515H486zM487 468h1V470h-1zM487 468H488.5V515H487zM488 485h1V487h-1zM488 468H489.5V487H488zM489 489h1V491h-1zM489 485H490.5V491H489zM490 477h1V479h-1zM490 477H491.5V491H490zM491 487h1V489h-1zM491 477H492.5V489H491zM492 483h1V485h-1zM492 483H493.5V489H492zM493 472h1V474h-1zM493 472H494.5V485H493zM494 513h1V515h-1zM494 472H495.5V515H494zM495 513h1V515h-1zM495 485H496.5V515H495zM496 485h1V487h-1zM496 485H497.5V515H496zM497 470h1V472h-1zM497 470H498.5V487H497zM498 484h1V486h-1zM498 470H499.5V486H498zM499 488h1V490h-1zM499 484H500.5V490H499zM500 490h1V492h-1zM500 488H501.5V492H500zM501 469h1V471h-1zM501 469H502.5V492H501zM502 489h1V491h-1zM502 469H503.5V491H502zM503 486h1V488h-1zM503 486H504.5V491H503zM504 476h1V478h-1zM504 476H505.5V488H504zM505 483h1V485h-1zM505 476H506.5V485H505zM506 488h1V490h-1zM506 483H507.5V490H506zM507 484h1V486h-1zM507 484H508.5V490H507zM508 490h1V492h-1zM508 484H509.5V492H508zM509 486h1V488h-1zM509 486H510.5V492H509zM510 489h1V491h-1zM510 486H511.5V491H510zM511 467h1V469h-1zM511 467H512.5V491H511zM512 488h1V490h-1zM512 467H513.5V490H512zM513 490h1V492h-1zM513 488H514.5V492H513zM514 484h1V486h-1zM514 484H515.5V492H514zM515 466h1V468h-1zM515 466H516.5V486H515zM516 466h1V468h-1zM516 466H517.5V486H516zM517 487h1V489h-1zM517 466H518.5V489H517zM518 465h1V467h-1zM518 465H519.5V489H518zM519 488h1V490h-1zM519 465H520.5V490H519zM520 481h1V483h-1zM520 481H521.5V490H520zM521 490h1V492h-1zM521 481H522.5V492H521zM522 513h1V515h-1zM522 490H523.5V515H522zM523 489h1V491h-1zM523 489H524.5V515H523zM524 485h1V487h-1zM524 485H525.5V491H524zM525 452h1V454h-1zM525 452H526.5V487H525zM526 490h1V492h-1zM526 452H527.5V492H526zM527 485h1V487h-1zM527 485H528.5V492H527zM528 489h1V491h-1zM528 485H529.5V491H528zM529 472h1V474h-1zM529 472H530.5V491H529zM530 487h1V489h-1zM530 472H531.5V489H530zM531 483h1V485h-1zM531 483H532.5V489H531zM532 460h1V462h-1zM532 460H533.5V485H532zM533 484h1V486h-1zM533 460H534.5V486H533zM534 490h1V492h-1zM534 484H535.5V492H534zM535 486h1V488h-1zM535 486H536.5V492H535zM536 472h1V474h-1zM536 472H537.5V488H536zM537 484h1V486h-1zM537 472H538.5V486H537zM538 488h1V490h-1zM538 484H539.5V490H538zM539 470h1V472h-1zM539 470H540.5V490H539zM540 485h1V487h-1zM540 470H541.5V487H540zM541 472h1V474h-1zM541 472H542.5V487H541zM542 513h1V515h-1zM542 472H543.5V515H542zM543 513h1V515h-1zM543 486H544.5V515H543zM544 513h1V515h-1zM544 486H545.5V515H544zM545 513h1V515h-1zM545 486H546.5V515H545zM546 513h1V515h-1zM546 486H547.5V515H546zM547 513h1V515h-1zM547 486H548.5V515H547zM548 486h1V488h-1zM548 486H549.5V515H548zM549 489h1V491h-1zM549 486H550.5V491H549zM550 513h1V515h-1zM550 489H551.5V515H550zM551 478h1V480h-1zM551 478H552.5V515H551zM552 490h1V492h-1zM552 478H553.5V492H552zM553 458h1V460h-1zM553 458H554.5V492H553zM554 489h1V491h-1zM554 458H555.5V491H554zM555 487h1V489h-1zM555 487H556.5V491H555zM556 491h1V493h-1zM556 487H557.5V493H556zM557 484h1V486h-1zM557 484H558.5V493H557zM558 492h1V494h-1zM558 484H559.5V494H558zM559 484h1V486h-1zM559 484H560.5V494H559zM560 470h1V472h-1zM560 470H561.5V486H560zM561 486h1V488h-1zM561 470H562.5V488H561zM562 489h1V491h-1zM562 486H563.5V491H562zM563 485h1V487h-1zM563 485H564.5V491H563zM564 474h1V476h-1zM564 474H565.5V487H564zM565 490h1V492h-1zM565 474H566.5V492H565zM566 485h1V487h-1zM566 485H567.5V492H566zM567 456h1V458h-1zM567 456H568.5V487H567zM568 487h1V489h-1zM568 456H569.5V489H568zM569 513h1V515h-1zM569 487H570.5V515H569zM570 484h1V486h-1zM570 484H571.5V515H570zM571 458h1V460h-1zM571 458H572.5V486H571zM572 484h1V486h-1zM572 458H573.5V486H572zM573 490h1V492h-1zM573 484H574.5V492H573zM574 465h1V467h-1zM574 465H575.5V492H574zM575 513h1V515h-1zM575 465H576.5V515H575zM576 485h1V487h-1zM576 485H577.5V515H576zM577 471h1V473h-1zM577 471H578.5V487H577zM578 490h1V492h-1zM578 471H579.5V492H578zM579 513h1V515h-1zM579 490H580.5V515H579zM580 513h1V515h-1zM580 490H581.5V515H580zM581 513h1V515h-1zM581 490H582.5V515H581zM582 513h1V515h-1zM582 490H583.5V515H582zM583 513h1V515h-1zM583 490H584.5V515H583zM584 513h1V515h-1zM584 490H585.5V515H584zM585 513h1V515h-1zM585 490H586.5V515H585zM586 490h1V492h-1zM586 490H587.5V515H586zM587 439h1V441h-1zM587 439H588.5V492H587zM588 439h1V441h-1zM588 439H589.5V487H588zM589 485h1V487h-1zM589 439H590.5V487H589zM590 488h1V490h-1zM590 485H591.5V490H590zM591 454h1V456h-1zM591 454H592.5V490H591zM592 485h1V487h-1zM592 454H593.5V487H592zM593 489h1V491h-1zM593 485H594.5V491H593zM594 487h1V489h-1zM594 487H595.5V491H594zM595 470h1V472h-1zM595 470H596.5V489H595zM596 484h1V486h-1zM596 470H597.5V486H596zM597 473h1V475h-1zM597 473H598.5V486H597zM598 484h1V486h-1zM598 473H599.5V486H598zM599 513h1V515h-1zM599 484H600.5V515H599zM600 486h1V488h-1zM600 486H601.5V515H600zM601 489h1V491h-1zM601 486H602.5V491H601zM602 467h1V469h-1zM602 467H603.5V491H602zM603 488h1V490h-1zM603 467H604.5V490H603zM604 490h1V492h-1zM604 488H605.5V492H604zM605 465h1V467h-1zM605 465H606.5V492H605zM606 489h1V491h-1zM606 465H607.5V491H606zM607 504h1V506h-1zM607 489H608.5V506H607zM608 487h1V489h-1zM608 487H609.5V506H608zM609 468h1V470h-1zM609 468H610.5V489H609zM610 488h1V490h-1zM610 468H611.5V490H610zM611 471h1V473h-1zM611 471H612.5V490H611zM612 513h1V515h-1zM612 471H613.5V515H612zM613 485h1V487h-1zM613 485H614.5V515H613zM614 489h1V491h-1zM614 485H615.5V491H614zM615 484h1V486h-1zM615 484H616.5V491H615zM616 468h1V470h-1zM616 468H617.5V486H616zM617 490h1V492h-1zM617 468H618.5V492H617zM618 485h1V487h-1zM618 485H619.5V492H618zM619 474h1V476h-1zM619 474H620.5V487H619zM620 487h1V489h-1zM620 474H621.5V489H620zM621 487h1V489h-1zM622 484h1V486h-1zM622 484H623.5V489H622zM623 513h1V515h-1zM623 484H624.5V515H623zM624 484h1V486h-1zM624 484H625.5V515H624zM625 490h1V492h-1zM625 484H626.5V492H625zM626 468h1V470h-1zM626 468H627.5V492H626zM627 489h1V491h-1zM627 468H628.5V491H627zM628 485h1V487h-1zM628 485H629.5V491H628zM629 488h1V490h-1zM629 485H630.5V490H629zM630 473h1V475h-1zM630 473H631.5V490H630zM631 484h1V486h-1zM631 473H632.5V486H631zM632 513h1V515h-1zM632 484H633.5V515H632zM633 472h1V474h-1zM633 472H634.5V515H633zM634 487h1V489h-1zM634 472H635.5V489H634zM635 483h1V485h-1zM635 483H636.5V489H635zM636 488h1V490h-1zM636 483H637.5V490H636zM637 469h1V471h-1zM637 469H638.5V490H637zM638 490h1V492h-1zM638 469H639.5V492H638zM639 485h1V487h-1zM639 485H640.5V492H639zM640 467h1V469h-1zM640 467H641.5V487H640zM641 484h1V486h-1zM641 467H642.5V486H641zM642 488h1V490h-1zM642 484H643.5V490H642zM643 490h1V492h-1zM643 488H644.5V492H643zM644 513h1V515h-1zM644 490H645.5V515H644zM645 489h1V491h-1zM645 489H646.5V515H645zM646 487h1V489h-1zM646 487H647.5V491H646zM647 459h1V461h-1zM647 459H648.5V489H647zM648 484h1V486h-1zM648 459H649.5V486H648zM649 489h1V491h-1zM649 484H650.5V491H649zM650 484h1V486h-1zM650 484H651.5V491H650zM651 498h1V500h-1zM651 484H652.5V500H651zM652 486h1V488h-1zM652 486H653.5V500H652zM653 489h1V491h-1zM653 486H654.5V491H653zM654 475h1V477h-1zM654 475H655.5V491H654zM655 488h1V490h-1zM655 475H656.5V490H655zM656 490h1V492h-1zM656 488H657.5V492H656zM657 484h1V486h-1zM657 484H658.5V492H657zM658 457h1V459h-1zM658 457H659.5V486H658zM659 486h1V488h-1zM659 457H660.5V488H659zM660 487h1V489h-1zM660 486H661.5V489H660zM661 473h1V475h-1zM661 473H662.5V489H661zM662 488h1V490h-1zM662 473H663.5V490H662zM663 484h1V486h-1zM663 484H664.5V490H663zM664 513h1V515h-1zM664 484H665.5V515H664zM665 513h1V515h-1zM665 484H666.5V515H665zM666 478h1V480h-1zM666 478H667.5V515H666zM667 510h1V512h-1zM667 478H668.5V512H667zM668 513h1V515h-1zM668 510H669.5V515H668zM669 490h1V492h-1zM669 490H670.5V515H669zM670 485h1V487h-1zM670 485H671.5V492H670zM671 489h1V491h-1zM671 485H672.5V491H671zM672 513h1V515h-1zM672 489H673.5V515H672zM673 487h1V489h-1zM673 487H674.5V515H673zM674 484h1V486h-1zM674 484H675.5V489H674zM675 470h1V472h-1zM675 470H676.5V486H675zM676 484h1V486h-1zM676 470H677.5V486H676zM677 494h1V496h-1zM677 484H678.5V496H677zM678 486h1V488h-1zM678 486H679.5V496H678zM679 513h1V515h-1zM679 486H680.5V515H679zM680 513h1V515h-1zM680 489H681.5V515H680zM681 513h1V515h-1zM681 489H682.5V515H681zM682 513h1V515h-1zM682 489H683.5V515H682zM683 513h1V515h-1zM683 489H684.5V515H683zM684 489h1V491h-1zM684 489H685.5V515H684zM685 486h1V488h-1zM685 486H686.5V491H685zM686 461h1V463h-1zM686 461H687.5V488H686zM687 483h1V485h-1zM687 461H688.5V485H687zM688 488h1V490h-1zM688 483H689.5V490H688zM689 468h1V470h-1zM689 468H690.5V490H689zM690 490h1V492h-1zM690 468H691.5V492H690zM691 486h1V488h-1zM691 486H692.5V492H691zM692 489h1V491h-1zM692 486H693.5V491H692zM693 479h1V481h-1zM693 479H694.5V491H693zM694 492h1V494h-1zM694 479H695.5V494H694zM695 490h1V492h-1zM695 490H696.5V494H695zM696 513h1V515h-1zM696 490H697.5V515H696zM697 489h1V491h-1zM697 489H698.5V515H697zM698 487h1V489h-1zM698 487H699.5V491H698zM699 487h1V489h-1zM700 464h1V466h-1zM700 464H701.5V489H700zM701 488h1V490h-1zM701 464H702.5V490H701zM702 462h1V464h-1zM702 462H703.5V490H702zM703 462h1V464h-1zM704 485h1V487h-1zM704 462H705.5V487H704zM705 489h1V491h-1zM705 485H706.5V491H705zM706 484h1V486h-1zM706 484H707.5V491H706zM707 470h1V472h-1zM707 470H708.5V486H707zM708 490h1V492h-1zM708 470H709.5V492H708zM709 499h1V501h-1zM709 490H710.5V501H709zM710 472h1V474h-1zM710 472H711.5V501H710zM711 486h1V488h-1zM711 472H712.5V488H711zM712 487h1V489h-1zM712 486H713.5V489H712zM713 483h1V485h-1zM713 483H714.5V489H713zM714 466h1V468h-1zM714 466H715.5V485H714zM715 483h1V485h-1zM715 466H716.5V485H715zM716 465h1V467h-1zM716 465H717.5V485H716zM717 464h1V466h-1zM717 464H718.5V467H717zM718 489h1V491h-1zM718 464H719.5V491H718zM719 513h1V515h-1zM719 489H720.5V515H719zM720 488h1V490h-1zM720 488H721.5V515H720zM721 463h1V465h-1zM721 463H722.5V490H721zM722 485h1V487h-1zM722 463H723.5V487H722zM723 492h1V494h-1zM723 485H724.5V494H723zM724 486h1V488h-1zM724 486H725.5V494H724zM725 481h1V483h-1zM725 481H726.5V488H725zM726 483h1V485h-1zM726 481H727.5V485H726zM727 513h1V515h-1zM727 483H728.5V515H727zM728 513h1V515h-1zM728 488H729.5V515H728zM729 513h1V515h-1zM729 488H730.5V515H729zM730 513h1V515h-1zM730 488H731.5V515H730zM731 513h1V515h-1zM731 488H732.5V515H731zM732 513h1V515h-1zM732 488H733.5V515H732zM733 488h1V490h-1zM733 488H734.5V515H733zM734 490h1V492h-1zM734 488H735.5V492H734zM735 472h1V474h-1zM735 472H736.5V492H735zM736 489h1V491h-1zM736 472H737.5V491H736zM737 478h1V480h-1zM737 478H738.5V491H737zM738 487h1V489h-1zM738 478H739.5V489H738zM739 483h1V485h-1zM739 483H740.5V489H739zM740 489h1V491h-1zM740 483H741.5V491H740zM741 484h1V486h-1zM741 484H742.5V491H741zM742 496h1V498h-1zM742 484H743.5V498H742zM743 486h1V488h-1zM743 486H744.5V498H743zM744 489h1V491h-1zM744 486H745.5V491H744zM745 468h1V470h-1zM745 468H746.5V491H745zM746 488h1V490h-1zM746 468H747.5V490H746zM747 490h1V492h-1zM747 488H748.5V492H747zM748 484h1V486h-1zM748 484H749.5V492H748zM749 463h1V465h-1zM749 463H750.5V486H749zM750 486h1V488h-1zM750 463H751.5V488H750zM751 487h1V489h-1zM751 486H752.5V489H751zM752 513h1V515h-1zM752 487H753.5V515H752zM753 489h1V491h-1zM753 489H754.5V515H753zM754 484h1V486h-1zM754 484H755.5V491H754zM755 490h1V492h-1zM755 484H756.5V492H755zM756 470h1V472h-1zM756 470H757.5V492H756zM757 489h1V491h-1zM757 470H758.5V491H757zM758 484h1V486h-1zM758 484H759.5V491H758zM759 472h1V474h-1zM759 472H760.5V486H759zM760 490h1V492h-1zM760 472H761.5V492H760zM761 492h1V494h-1zM761 490H762.5V494H761zM762 489h1V491h-1zM762 489H763.5V494H762zM763 470h1V472h-1zM763 470H764.5V491H763zM764 487h1V489h-1zM764 470H765.5V489H764zM765 483h1V485h-1zM765 483H766.5V489H765zM766 463h1V465h-1zM766 463H767.5V485H766zM767 483h1V485h-1zM767 463H768.5V485H767zM768 490h1V492h-1zM768 483H769.5V492H768zM769 471h1V473h-1zM769 471H770.5V492H769zM770 489h1V491h-1zM770 471H771.5V491H770zM771 471h1V473h-1zM771 471H772.5V491H771zM772 513h1V515h-1zM772 471H773.5V515H772zM773 471h1V473h-1zM773 471H774.5V515H773zM774 484h1V486h-1zM774 471H775.5V486H774zM775 489h1V491h-1zM775 484H776.5V491H775zM776 487h1V489h-1zM776 487H777.5V491H776zM777 463h1V465h-1zM777 463H778.5V489H777zM778 484h1V486h-1zM778 463H779.5V486H778zM779 489h1V491h-1zM779 484H780.5V491H779zM780 513h1V515h-1zM780 489H781.5V515H780zM781 490h1V492h-1zM781 490H782.5V515H781zM782 481h1V483h-1zM782 481H783.5V492H782zM783 489h1V491h-1zM783 481H784.5V491H783zM784 463h1V465h-1zM784 463H785.5V491H784zM785 488h1V490h-1zM785 463H786.5V490H785zM786 490h1V492h-1zM786 488H787.5V492H786zM787 471h1V473h-1zM787 471H788.5V492H787zM788 489h1V491h-1zM788 471H789.5V491H788zM789 487h1V489h-1zM789 487H790.5V491H789zM790 487h1V489h-1zM791 484h1V486h-1zM791 484H792.5V489H791zM792 504h1V506h-1zM792 484H793.5V506H792zM793 484h1V486h-1zM793 484H794.5V506H793zM794 464h1V466h-1zM794 464H795.5V486H794zM795 486h1V488h-1zM795 464H796.5V488H795zM796 489h1V491h-1zM796 486H797.5V491H796zM797 485h1V487h-1zM797 485H798.5V491H797zM798 471h1V473h-1zM798 471H799.5V487H798zM799 490h1V492h-1zM799 471H800.5V492H799zM800 485h1V487h-1zM800 485H801.5V492H800zM801 513h1V515h-1zM801 485H802.5V515H801zM802 487h1V489h-1zM802 487H803.5V515H802zM803 487h1V489h-1zM804 483h1V485h-1zM804 483H805.5V489H804zM805 470h1V472h-1zM805 470H806.5V485H805zM806 483h1V485h-1zM806 470H807.5V485H806zM807 490h1V492h-1zM807 483H808.5V492H807zM808 465h1V467h-1zM808 465H809.5V492H808zM809 489h1V491h-1zM809 465H810.5V491H809zM810 484h1V486h-1zM810 484H811.5V491H810zM811 465h1V467h-1zM811 465H812.5V486H811zM812 490h1V492h-1zM812 465H813.5V492H812zM813 513h1V515h-1zM813 490H814.5V515H813zM814 489h1V491h-1zM814 489H815.5V515H814zM815 459h1V461h-1zM815 459H816.5V491H815zM816 487h1V489h-1zM816 459H817.5V489H816zM817 483h1V485h-1zM817 483H818.5V489H817zM818 488h1V490h-1zM818 483H819.5V490H818zM819 466h1V468h-1zM819 466H820.5V490H819zM820 490h1V492h-1zM820 466H821.5V492H820zM821 485h1V487h-1zM821 485H822.5V492H821zM822 468h1V470h-1zM822 468H823.5V487H822zM823 513h1V515h-1zM823 468H824.5V515H823zM824 513h1V515h-1zM824 490H825.5V515H824zM825 490h1V492h-1zM825 490H826.5V515H825zM826 462h1V464h-1zM826 462H827.5V492H826zM827 489h1V491h-1zM827 462H828.5V491H827zM828 487h1V489h-1zM828 487H829.5V491H828zM829 487h1V489h-1zM830 469h1V471h-1zM830 469H831.5V489H830zM831 488h1V490h-1zM831 469H832.5V490H831zM832 483h1V485h-1zM832 483H833.5V490H832zM833 472h1V474h-1zM833 472H834.5V485H833zM834 485h1V487h-1zM834 472H835.5V487H834zM835 489h1V491h-1zM835 485H836.5V491H835zM836 467h1V469h-1zM836 467H837.5V491H836zM837 488h1V490h-1zM837 467H838.5V490H837zM838 490h1V492h-1zM838 488H839.5V492H838zM839 485h1V487h-1zM839 485H840.5V492H839zM840 513h1V515h-1zM840 485H841.5V515H840zM841 487h1V489h-1zM841 487H842.5V515H841zM842 487h1V489h-1zM843 472h1V474h-1zM843 472H844.5V489H843zM844 489h1V491h-1zM844 472H845.5V491H844zM845 484h1V486h-1zM845 484H846.5V491H845zM846 490h1V492h-1zM846 484H847.5V492H846zM847 499h1V501h-1zM847 490H848.5V501H847zM848 489h1V491h-1zM848 489H849.5V501H848zM849 484h1V486h-1zM849 484H850.5V491H849zM850 468h1V470h-1zM850 468H851.5V486H850zM851 490h1V492h-1zM851 468H852.5V492H851zM852 484h1V486h-1zM852 484H853.5V492H852zM853 482h1V484h-1zM853 482H854.5V486H853zM854 486h1V488h-1zM854 482H855.5V488H854zM855 487h1V489h-1zM855 486H856.5V489H855zM856 483h1V485h-1zM856 483H857.5V489H856zM857 470h1V472h-1zM857 470H858.5V485H857zM858 483h1V485h-1zM858 470H859.5V485H858zM859 490h1V492h-1zM859 483H860.5V492H859zM860 485h1V487h-1zM860 485H861.5V492H860zM861 467h1V469h-1zM861 467H862.5V487H861zM862 484h1V486h-1zM862 467H863.5V486H862zM863 488h1V490h-1zM863 484H864.5V490H863zM864 475h1V477h-1zM864 475H865.5V490H864zM865 484h1V486h-1zM865 475H866.5V486H865zM866 489h1V491h-1zM866 484H867.5V491H866zM867 486h1V488h-1zM867 486H868.5V491H867zM868 470h1V472h-1zM868 470H869.5V488H868zM869 503h1V505h-1zM869 470H870.5V505H869zM870 488h1V490h-1zM870 488H871.5V505H870zM871 475h1V477h-1zM871 475H872.5V490H871zM872 490h1V492h-1zM872 475H873.5V492H872zM873 486h1V488h-1zM873 486H874.5V492H873zM874 513h1V515h-1zM874 486H875.5V515H874zM875 513h1V515h-1zM875 489H876.5V515H875zM876 513h1V515h-1zM876 489H877.5V515H876zM877 513h1V515h-1zM877 489H878.5V515H877zM878 513h1V515h-1zM878 489H879.5V515H878zM879 489h1V491h-1zM879 489H880.5V515H879zM880 487h1V489h-1zM880 487H881.5V491H880zM881 487h1V489h-1zM882 466h1V468h-1zM882 466H883.5V489H882zM883 488h1V490h-1zM883 466H884.5V490H883zM884 483h1V485h-1zM884 483H885.5V490H884zM885 471h1V473h-1zM885 471H886.5V485H885zM886 485h1V487h-1zM886 471H887.5V487H886zM887 489h1V491h-1zM887 485H888.5V491H887zM888 470h1V472h-1zM888 470H889.5V491H888zM889 513h1V515h-1zM889 470H890.5V515H889zM890 490h1V492h-1zM890 490H891.5V515H890zM891 484h1V486h-1zM891 484H892.5V492H891zM892 471h1V473h-1zM892 471H893.5V486H892zM893 486h1V488h-1zM893 471H894.5V488H893zM894 487h1V489h-1zM894 486H895.5V489H894zM895 484h1V486h-1zM895 484H896.5V489H895zM896 464h1V466h-1zM896 464H897.5V486H896zM897 484h1V486h-1zM897 464H898.5V486H897zM898 490h1V492h-1zM898 484H899.5V492H898zM899 472h1V474h-1zM899 472H900.5V492H899zM900 489h1V491h-1zM900 472H901.5V491H900zM901 484h1V486h-1zM901 484H902.5V491H901zM902 473h1V475h-1zM902 473H903.5V486H902zM903 490h1V492h-1zM903 473H904.5V492H903zM904 484h1V486h-1zM904 484H905.5V492H904zM905 466h1V468h-1zM905 466H906.5V486H905zM906 513h1V515h-1zM906 466H907.5V515H906zM907 513h1V515h-1zM907 490H908.5V515H907zM908 513h1V515h-1zM908 490H909.5V515H908zM909 513h1V515h-1zM909 490H910.5V515H909zM910 513h1V515h-1zM910 490H911.5V515H910zM911 490h1V492h-1zM911 490H912.5V515H911zM912 486h1V488h-1zM912 486H913.5V492H912zM913 470h1V472h-1zM913 470H914.5V488H913zM914 485h1V487h-1zM914 470H915.5V487H914zM915 488h1V490h-1zM915 485H916.5V490H915zM916 513h1V515h-1zM916 488H917.5V515H916zM917 513h1V515h-1zM917 489H918.5V515H917zM918 489h1V491h-1zM918 489H919.5V515H918zM919 486h1V488h-1zM919 486H920.5V491H919zM920 468h1V470h-1zM920 468H921.5V488H920zM921 483h1V485h-1zM921 468H922.5V485H921zM922 488h1V490h-1zM922 483H923.5V490H922zM923 462h1V464h-1zM923 462H924.5V490H923zM924 490h1V492h-1zM924 462H925.5V492H924zM925 485h1V487h-1zM925 485H926.5V492H925zM926 489h1V491h-1zM926 485H927.5V491H926zM927 470h1V472h-1zM927 470H928.5V491H927zM928 488h1V490h-1zM928 470H929.5V490H928zM929 490h1V492h-1zM929 488H930.5V492H929zM930 460h1V462h-1zM930 460H931.5V492H930zM931 489h1V491h-1zM931 460H932.5V491H931zM932 468h1V470h-1zM932 468H933.5V491H932zM933 487h1V489h-1zM933 468H934.5V489H933zM934 477h1V479h-1zM934 477H935.5V489H934zM935 489h1V491h-1zM935 477H936.5V491H935zM936 513h1V515h-1zM936 489H937.5V515H936zM937 490h1V492h-1zM937 490H938.5V515H937zM938 486h1V488h-1zM938 486H939.5V492H938zM939 489h1V491h-1zM939 486H940.5V491H939zM940 485h1V487h-1zM940 485H941.5V491H940zM941 513h1V515h-1zM941 485H942.5V515H941zM942 490h1V492h-1zM942 490H943.5V515H942zM943 485h1V487h-1zM943 485H944.5V492H943zM944 465h1V467h-1zM944 465H945.5V487H944zM945 487h1V489h-1zM945 465H946.5V489H945zM946 513h1V515h-1zM946 487H947.5V515H946zM947 513h1V515h-1zM947 487H948.5V515H947zM948 513h1V515h-1zM948 487H949.5V515H948zM949 484h1V486h-1zM949 484H950.5V515H949zM950 490h1V492h-1zM950 484H951.5V492H950zM951 469h1V471h-1zM951 469H952.5V492H951zM952 489h1V491h-1zM952 469H953.5V491H952zM953 484h1V486h-1zM953 484H954.5V491H953zM954 488h1V490h-1zM954 484H955.5V490H954zM955 466h1V468h-1zM955 466H956.5V490H955zM956 484h1V486h-1zM956 466H957.5V486H956zM957 489h1V491h-1zM957 484H958.5V491H957zM958 475h1V477h-1zM958 475H959.5V491H958zM959 487h1V489h-1zM959 475H960.5V489H959zM960 483h1V485h-1zM960 483H961.5V489H960zM961 488h1V490h-1zM961 483H962.5V490H961zM962 472h1V474h-1zM962 472H963.5V490H962zM963 490h1V492h-1zM963 472H964.5V492H963zM964 513h1V515h-1zM964 490H965.5V515H964zM965 513h1V515h-1zM965 490H966.5V515H965zM966 485h1V487h-1zM966 485H967.5V515H966zM967 488h1V490h-1zM967 485H968.5V490H967zM968 490h1V492h-1zM968 488H969.5V492H968zM969 474h1V476h-1zM969 474H970.5V492H969zM970 489h1V491h-1zM970 474H971.5V491H970zM971 513h1V515h-1zM971 489H972.5V515H971zM972 513h1V515h-1zM972 489H973.5V515H972zM973 484h1V486h-1zM973 484H974.5V515H973zM974 489h1V491h-1zM974 484H975.5V491H974zM975 483h1V485h-1zM975 483H976.5V491H975zM976 472h1V474h-1zM976 472H977.5V485H976zM977 513h1V515h-1zM977 472H978.5V515H977zM978 489h1V491h-1zM978 489H979.5V515H978zM979 476h1V478h-1zM979 476H980.5V491H979zM980 488h1V490h-1zM980 476H981.5V490H980zM981 513h1V515h-1zM981 488H982.5V515H981zM982 485h1V487h-1zM982 485H983.5V515H982zM983 513h1V515h-1zM983 485H984.5V515H983zM984 513h1V515h-1zM984 485H985.5V515H984zM985 513h1V515h-1zM985 485H986.5V515H985zM986 513h1V515h-1zM986 485H987.5V515H986zM987 513h1V515h-1zM987 485H988.5V515H987zM988 484h1V486h-1zM988 484H989.5V515H988zM989 490h1V492h-1zM989 484H990.5V492H989zM990 477h1V479h-1zM990 477H991.5V492H990zM991 489h1V491h-1zM991 477H992.5V491H991zM992 484h1V486h-1zM992 484H993.5V491H992zM993 464h1V466h-1zM993 464H994.5V486H993zM994 490h1V492h-1zM994 464H995.5V492H994zM995 484h1V486h-1zM995 484H996.5V492H995zM996 489h1V491h-1zM996 484H997.5V491H996zM997 469h1V471h-1zM997 469H998.5V491H997zM998 487h1V489h-1zM998 469H999.5V489H998zM999 483h1V485h-1zM999 483H1000.5V489H999zM1000 472h1V474h-1zM1000 472H1001.5V485H1000zM1001 483h1V485h-1zM1001 472H1002.5V485H1001zM1002 490h1V492h-1zM1002 483H1003.5V492H1002zM1003 491h1V493h-1zM1003 490H1004.5V493H1003zM1004 480h1V482h-1zM1004 480H1005.5V493H1004zM1005 485h1V487h-1zM1005 480H1006.5V487H1005zM1006 488h1V490h-1zM1006 485H1007.5V490H1006zM1007 513h1V515h-1zM1007 488H1008.5V515H1007zM1008 485h1V487h-1zM1008 485H1009.5V515H1008zM1009 489h1V491h-1zM1009 485H1010.5V491H1009zM1010 486h1V488h-1zM1010 486H1011.5V491H1010zM1011 475h1V477h-1zM1011 475H1012.5V488H1011zM1012 483h1V485h-1zM1012 475H1013.5V485H1012zM1013 488h1V490h-1zM1013 483H1014.5V490H1013zM1014 475h1V477h-1zM1014 475H1015.5V490H1014zM1015 490h1V492h-1zM1015 475H1016.5V492H1015zM1016 485h1V487h-1zM1016 485H1017.5V492H1016zM1017 489h1V491h-1zM1017 485H1018.5V491H1017zM1018 460h1V462h-1zM1018 460H1019.5V491H1018zM1019 488h1V490h-1zM1019 460H1020.5V490H1019zM1020 497h1V499h-1zM1020 488H1021.5V499H1020zM1021 465h1V467h-1zM1021 465H1022.5V499H1021zM1022 489h1V491h-1zM1022 465H1023.5V491H1022zM1023 513h1V515h-1zM1023 489H1024.5V515H1023zM1024 513h1V515h-1zM1024 489H1025.5V515H1024zM1025 466h1V468h-1zM1025 466H1026.5V515H1025zM1026 488h1V490h-1zM1026 466H1027.5V490H1026zM1027 483h1V485h-1zM1027 483H1028.5V490H1027zM1028 477h1V479h-1zM1028 477H1029.5V485H1028zM1029 485h1V487h-1zM1029 477H1030.5V487H1029zM1030 489h1V491h-1zM1030 485H1031.5V491H1030zM1031 484h1V486h-1zM1031 484H1032.5V491H1031zM1032 477h1V479h-1zM1032 477H1033.5V486H1032zM1033 490h1V492h-1zM1033 477H1034.5V492H1033zM1034 484h1V486h-1zM1034 484H1035.5V492H1034zM1035 464h1V466h-1zM1035 464H1036.5V486H1035zM1036 486h1V488h-1zM1036 464H1037.5V488H1036zM1037 513h1V515h-1zM1037 486H1038.5V515H1037zM1038 513h1V515h-1zM1038 487H1039.5V515H1038zM1039 513h1V515h-1zM1039 487H1040.5V515H1039zM1040 487h1V489h-1zM1040 487H1041.5V515H1040zM1041 513h1V515h-1zM1041 487H1042.5V515H1041zM1042 513h1V515h-1zM1042 487H1043.5V515H1042zM1043 513h1V515h-1zM1043 487H1044.5V515H1043zM1044 485h1V487h-1zM1044 485H1045.5V515H1044zM1045 488h1V490h-1zM1045 485H1046.5V490H1045zM1046 473h1V475h-1zM1046 473H1047.5V490H1046zM1047 484h1V486h-1zM1047 473H1048.5V486H1047zM1048 472h1V474h-1zM1048 472H1049.5V486H1048zM1049 472h1V474h-1zM1050 487h1V489h-1zM1050 472H1051.5V489H1050zM1051 513h1V515h-1zM1051 487H1052.5V515H1051zM1052 513h1V515h-1zM1052 487H1053.5V515H1052zM1053 513h1V515h-1zM1053 487H1054.5V515H1053zM1054 485h1V487h-1zM1054 485H1055.5V515H1054zM1055 513h1V515h-1zM1055 485H1056.5V515H1055zM1056 513h1V515h-1zM1056 485H1057.5V515H1056zM1057 485h1V487h-1zM1057 485H1058.5V515H1057zM1058 488h1V490h-1zM1058 485H1059.5V490H1058zM1059 490h1V492h-1zM1059 488H1060.5V492H1059zM1060 470h1V472h-1zM1060 470H1061.5V492H1060zM1061 489h1V491h-1zM1061 470H1062.5V491H1061zM1062 487h1V489h-1zM1062 487H1063.5V491H1062zM1063 506h1V508h-1zM1063 487H1064.5V508H1063zM1064 484h1V486h-1zM1064 484H1065.5V508H1064zM1065 489h1V491h-1zM1065 484H1066.5V491H1065zM1066 484h1V486h-1zM1066 484H1067.5V491H1066zM1067 471h1V473h-1zM1067 471H1068.5V486H1067zM1068 486h1V488h-1zM1068 471H1069.5V488H1068zM1069 489h1V491h-1zM1069 486H1070.5V491H1069zM1070 513h1V515h-1zM1070 489H1071.5V515H1070zM1071 513h1V515h-1zM1071 490H1072.5V515H1071zM1072 490h1V492h-1zM1072 490H1073.5V515H1072zM1073 484h1V486h-1zM1073 484H1074.5V492H1073zM1074 462h1V464h-1zM1074 462H1075.5V486H1074zM1075 513h1V515h-1zM1075 462H1076.5V515H1075zM1076 513h1V515h-1zM1076 464H1077.5V515H1076zM1077 464h1V466h-1zM1077 464H1078.5V515H1077zM1078 513h1V515h-1zM1078 464H1079.5V515H1078zM1079 513h1V515h-1zM1079 475H1080.5V515H1079zM1080 475h1V477h-1zM1080 475H1081.5V515H1080zM1081 513h1V515h-1zM1081 475H1082.5V515H1081zM1082 513h1V515h-1zM1082 484H1083.5V515H1082zM1083 484h1V486h-1zM1083 484H1084.5V515H1083zM1084 470h1V472h-1zM1084 470H1085.5V486H1084zM1085 490h1V492h-1zM1085 470H1086.5V492H1085zM1086 484h1V486h-1zM1086 484H1087.5V492H1086zM1087 489h1V491h-1zM1087 484H1088.5V491H1087zM1088 469h1V471h-1zM1088 469H1089.5V491H1088zM1089 513h1V515h-1zM1089 469H1090.5V515H1089zM1090 513h1V515h-1zM1090 488H1091.5V515H1090zM1091 513h1V515h-1zM1091 488H1092.5V515H1091zM1092 513h1V515h-1zM1092 488H1093.5V515H1092zM1093 513h1V515h-1zM1093 488H1094.5V515H1093zM1094 513h1V515h-1zM1094 488H1095.5V515H1094zM1095 513h1V515h-1zM1095 488H1096.5V515H1095zM1096 513h1V515h-1zM1096 488H1097.5V515H1096zM1097 488h1V490h-1zM1097 488H1098.5V515H1097zM1098 465h1V467h-1zM1098 465H1099.5V490H1098zM1099 484h1V486h-1zM1099 465H1100.5V486H1099zM1100 489h1V491h-1zM1100 484H1101.5V491H1100zM1101 486h1V488h-1zM1101 486H1102.5V491H1101zM1102 458h1V460h-1zM1102 458H1103.5V488H1102zM1103 483h1V485h-1zM1103 458H1104.5V485H1103zM1104 488h1V490h-1zM1104 483H1105.5V490H1104zM1105 513h1V515h-1zM1105 488H1106.5V515H1105zM1106 490h1V492h-1zM1106 490H1107.5V515H1106zM1107 486h1V488h-1zM1107 486H1108.5V492H1107zM1108 489h1V491h-1zM1108 486H1109.5V491H1108zM1109 471h1V473h-1zM1109 471H1110.5V491H1109zM1110 488h1V490h-1zM1110 471H1111.5V490H1110zM1111 490h1V492h-1zM1111 488H1112.5V492H1111zM1112 465h1V467h-1zM1112 465H1113.5V492H1112zM1113 489h1V491h-1zM1113 465H1114.5V491H1113zM1114 486h1V488h-1zM1114 486H1115.5V491H1114zM1115 487h1V489h-1zM1115 486H1116.5V489H1115zM1116 466h1V468h-1zM1116 466H1117.5V489H1116zM1117 488h1V490h-1zM1117 466H1118.5V490H1117zM1118 483h1V485h-1zM1118 483H1119.5V490H1118zM1119 460h1V462h-1zM1119 460H1120.5V485H1119zM1120 485h1V487h-1zM1120 460H1121.5V487H1120zM1121 513h1V515h-1zM1121 485H1122.5V515H1121zM1122 513h1V515h-1zM1122 485H1123.5V515H1122zM1123 467h1V469h-1zM1123 467H1124.5V515H1123zM1124 490h1V492h-1zM1124 467H1125.5V492H1124zM1125 513h1V515h-1zM1125 490H1126.5V515H1125zM1126 513h1V515h-1zM1126 490H1127.5V515H1126zM1127 513h1V515h-1zM1127 490H1128.5V515H1127zM1128 472h1V474h-1zM1128 472H1129.5V515H1128zM1129 513h1V515h-1zM1129 472H1130.5V515H1129zM1130 513h1V515h-1zM1130 477H1131.5V515H1130zM1131 477h1V479h-1zM1131 477H1132.5V515H1131zM1132 513h1V515h-1zM1132 477H1133.5V515H1132zM1133 513h1V515h-1zM1134 513h1V515h-1zM1135 513h1V515h-1z" fill="#000099" shape-rendering="geometricPrecision"/>
<path d="M83.5 38V515M83 514.5H1137" stroke="#000" stroke-width="1"/>
<path d="M84 514.5h30M84 502.5h15M84 490.5h15M84 479.5h15M84 467.5h15M84 455.5h30M84 443.5h15M84 431.5h15M84 419.5h15M84 407.5h15M84 395.5h30M84 383.5h15M84 371.5h15M84 359.5h15M84 348.5h15M84 336.5h30M84 324.5h15M84 312.5h15M84 300.5h15M84 288.5h15M84 276.5h30M84 264.5h15M84 252.5h15M84 240.5h15M84 228.5h15M84 217.5h30M84 205.5h15M84 193.5h15M84 181.5h15M84 169.5h15M84 157.5h30M84 145.5h15M84 133.5h15M84 121.5h15M84 109.5h15M84 97.5h30M84 85.5h15M84 74.5h15M84 62.5h15M84 50.5h15M84 38.5h30M126.5 514v-7M170.5 514v-7M214.5 514v-7M257.5 514v-15M301.5 514v-7M345.5 514v-7M388.5 514v-7M432.5 514v-15M476.5 514v-7M519.5 514v-7M563.5 514v-7M607.5 514v-15M650.5 514v-7M694.5 514v-7M738.5 514v-7M782.5 514v-15M825.5 514v-7M869.5 514v-7M913.5 514v-7M956.5 514v-15M1000.5 514v-7M1044.5 514v-7M1087.5 514v-7M1131.5 514v-15" stroke="#000" stroke-width="1" fill="none"/>
<g font-size="19.5"><text transform="translate(77.8 521) scale(1 1.03)" text-anchor="end">0</text><text transform="translate(77.8 462) scale(1 1.03)" text-anchor="end">50</text><text transform="translate(77.8 402) scale(1 1.03)" text-anchor="end">100</text><text transform="translate(77.8 343) scale(1 1.03)" text-anchor="end">150</text><text transform="translate(77.8 283) scale(1 1.03)" text-anchor="end">200</text><text transform="translate(77.8 224) scale(1 1.03)" text-anchor="end">250</text><text transform="translate(77.8 164) scale(1 1.03)" text-anchor="end">300</text><text transform="translate(77.8 104) scale(1 1.03)" text-anchor="end">350</text><text transform="translate(77.8 45) scale(1 1.03)" text-anchor="end">400</text><text transform="translate(257.00 533.0) scale(1 1.03)" text-anchor="middle">200</text><text transform="translate(431.75 533.0) scale(1 1.03)" text-anchor="middle">400</text><text transform="translate(606.50 533.0) scale(1 1.03)" text-anchor="middle">600</text><text transform="translate(781.25 533.0) scale(1 1.03)" text-anchor="middle">800</text><text transform="translate(956.00 533.0) scale(1 1.03)" text-anchor="middle">1000</text><text transform="translate(1130.75 533.0) scale(1 1.03)" text-anchor="middle">1200</text></g>
<text transform="translate(217.5 26.2) scale(1 1.04)" font-size="24" xml:space="preserve" style="white-space:pre">Channel Rates (kHz), Sun Jun  8 07:00:08 2025, run 12688 subrun 232</text>
<text transform="translate(680.5 558.8) scale(1 1.03)" font-size="19" text-anchor="end">Channel Number</text>
<text transform="translate(21.0 230.4) rotate(-90) scale(1 1.03)" font-size="18.8" text-anchor="end">Rate (kHz)</text>
</svg>
</body></html>
